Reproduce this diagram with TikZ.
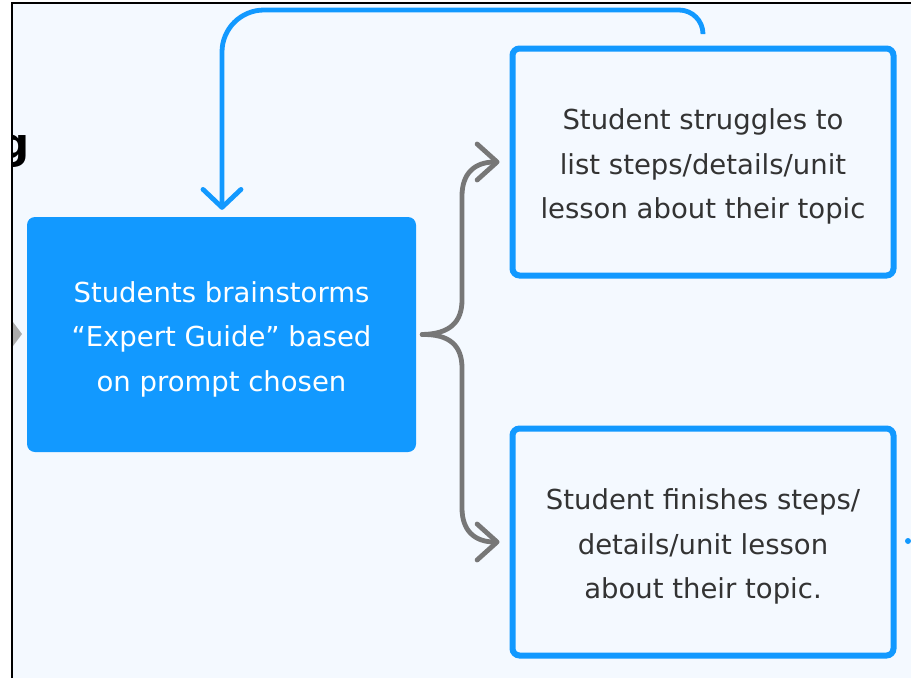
\documentclass[tikz,border=0pt]{standalone}
\usepackage{fontspec}
\setmainfont{DejaVu Sans}
\usetikzlibrary{arrows.meta,calc}
\definecolor{bgblue}{HTML}{F4F9FF}
\definecolor{mainblue}{HTML}{1299FF}
\definecolor{txtgray}{HTML}{333333}
\definecolor{arrgray}{HTML}{777777}
\definecolor{trigray}{HTML}{AAAAAA}
\newcommand{\tstrut}{\rule{0pt}{30pt}}
\tikzset{
  boxtext/.style={font=\fontsize{27.5}{44.5}\selectfont},
  outbox/.style={draw=mainblue, line width=6pt, rounded corners=7pt, fill=bgblue,
    minimum width=381pt, minimum height=227pt, inner sep=0pt, align=center,
    text=txtgray, boxtext},
  mainbox/.style={fill=mainblue, rounded corners=8pt, minimum width=389pt,
    minimum height=235pt, inner sep=0pt, align=center, text=white, boxtext},
  blueconn/.style={draw=mainblue, line width=4.8pt, line cap=round,
    -{Straight Barb[length=18pt,width=38pt,line cap=round,line join=round]}},
  grayconn/.style={draw=arrgray, line width=4.8pt, line cap=round,
    -{Straight Barb[length=20pt,width=36pt,line cap=round,line join=round]}},
}
\begin{document}
\begin{tikzpicture}[x=1pt,y=-1pt]
\useasboundingbox (0,0) rectangle (911,678);
\fill[white] (0,0) rectangle (911,678);
\fill[bgblue] (12,3) rectangle (911,678);
% cut-off title letter
\begin{scope}
  \clip (12,100) rectangle (60,200);
  \node[anchor=base west, inner sep=0pt, font=\fontsize{42}{50}\selectfont\bfseries, text=black] (gfrag) at (-1,158) {g};
\end{scope}
\draw[black, line width=1.5pt] (12,678) -- (12,3) -- (911,3);
% left gray triangle
\fill[trigray] (13,322) -- (22,334) -- (13,346) -- cycle;

\node[mainbox] (main) at (221.5,334.5) {\tstrut Students brainstorms\\“Expert Guide” based\\on prompt chosen};
\node[outbox] (tr) at (703,162) {\tstrut Student struggles to\\list steps/details/unit\\lesson about their topic};
\node[outbox] (br) at (703,542) {\tstrut Student finishes steps/\\details/unit lesson\\about their topic.};

% loop arrow
\coordinate (loopstart) at ($(tr.north)+(0,-13)$);
\coordinate (loopend) at ($(main.north)+(0.5,-7)$);
\draw[blueconn] (loopstart) [rounded corners=24pt] -- (loopstart |- 0,10) [rounded corners=42pt] -- (loopend |- 0,10) [sharp corners] -- (loopend);

% brace arrows
\coordinate (fork) at ($(main.east)+(6,0)$);
\coordinate (tipT) at ($(tr.west)+(-10,0)$);
\coordinate (tipB) at ($(br.west)+(-10,0)$);
\draw[grayconn] (fork) .. controls (450,334) and (462,322) .. (462,300) -- (462,196)
  .. controls (462,174) and (474,162) .. (tipT);
\draw[grayconn] (fork) .. controls (450,334) and (462,346) .. (462,368) -- (462,508)
  .. controls (462,530) and (474,542) .. (tipB);

% blue dot at right edge
\fill[mainblue] (908,541) circle (3pt);
\end{tikzpicture}
\end{document}
